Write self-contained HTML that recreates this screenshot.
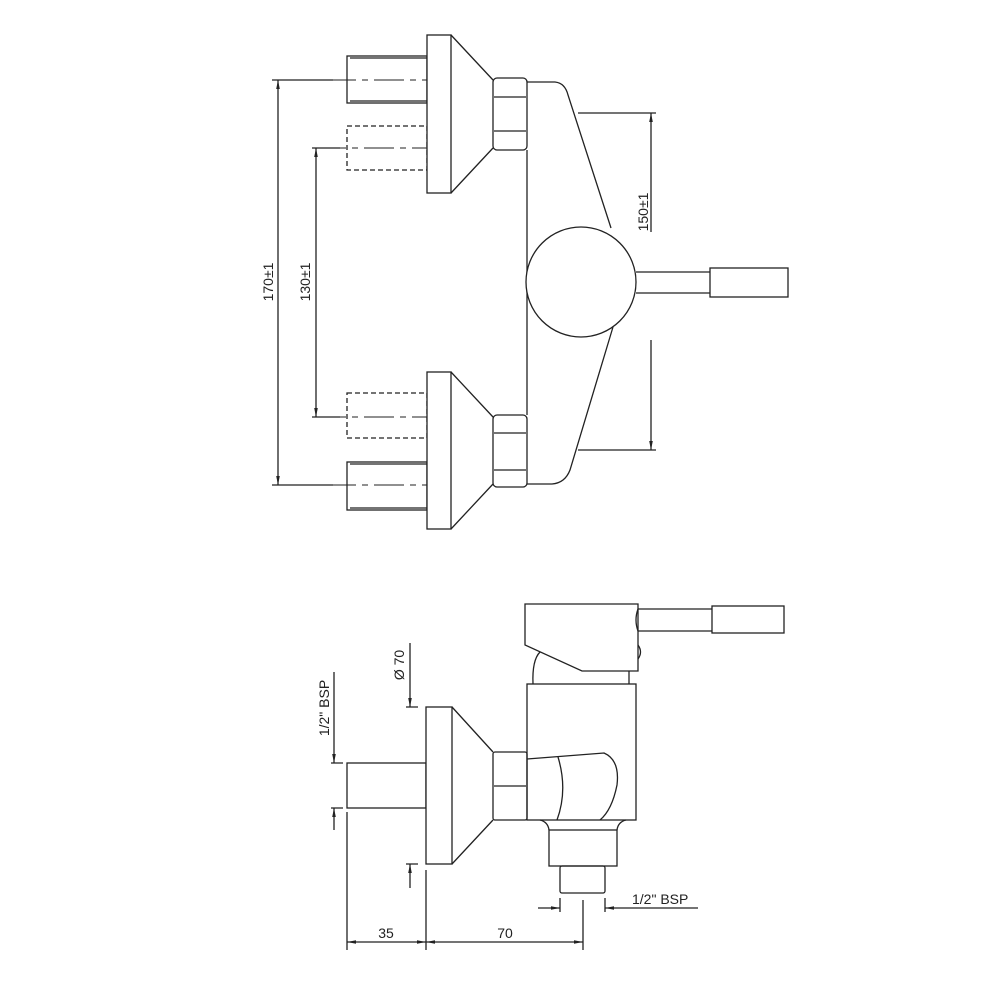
<!DOCTYPE html>
<html><head><meta charset="utf-8"><style>html,body{margin:0;padding:0;background:#fff}svg{display:block}</style></head>
<body>
<svg width="1000" height="1000" viewBox="0 0 1000 1000" xmlns="http://www.w3.org/2000/svg" font-family="Liberation Sans, sans-serif" fill="none" stroke="#222" stroke-width="1.3">
<defs>
<marker id="a" viewBox="0 0 10 10" refX="10" refY="5" markerWidth="9" markerHeight="9" orient="auto-start-reverse" markerUnits="userSpaceOnUse"><path d="M0,3 L10,5 L0,7 z" fill="#222" stroke="none"/></marker>
</defs>
<rect x="347" y="56" width="80" height="47"/>
<line x1="350" y1="58" x2="427" y2="58"/><line x1="350" y1="101" x2="427" y2="101"/>
<rect x="347" y="126" width="80" height="44" stroke-dasharray="5,3"/>
<rect x="347" y="393" width="80" height="45" stroke-dasharray="5,3"/>
<rect x="347" y="462" width="80" height="48"/>
<line x1="350" y1="464" x2="427" y2="464"/><line x1="350" y1="508" x2="427" y2="508"/>
<g stroke-dasharray="30,6,6,6" stroke-width="1">
<line x1="278" y1="80" x2="433" y2="80"/><line x1="316" y1="148" x2="433" y2="148"/>
<line x1="316" y1="417" x2="433" y2="417"/><line x1="278" y1="485" x2="433" y2="485"/>
</g>
<rect x="427" y="35" width="24" height="158" fill="#fff"/>
<path d="M451,35 L493,80 M451,193 L493,148"/>
<rect x="427" y="372" width="24" height="157" fill="#fff"/>
<path d="M451,372 L493,417 M451,529 L493,484"/>
<rect x="493" y="78" width="34" height="72" rx="4"/>
<line x1="494" y1="97" x2="526" y2="97"/><line x1="494" y1="131" x2="526" y2="131"/>
<rect x="493" y="415" width="34" height="72" rx="4"/>
<line x1="494" y1="433" x2="526" y2="433"/><line x1="494" y1="470" x2="526" y2="470"/>
<line x1="527" y1="150" x2="527" y2="415"/>
<path d="M527,82 L555,82 Q565,83 568,95 L611,228"/>
<path d="M527,484 L552,484 Q565,483 570,470 L613,327"/>
<circle cx="581" cy="282" r="55" fill="#fff"/>
<path d="M636,272 L710,272 M636,293 L710,293"/>
<rect x="710" y="268" width="78" height="29"/>
<path d="M578,113 L656,113 M578,450 L656,450"/>
<line x1="651" y1="232" x2="651" y2="113" marker-end="url(#a)"/>
<line x1="651" y1="340" x2="651" y2="450" marker-end="url(#a)"/>
<text transform="translate(648,212) rotate(-90)" font-size="14" fill="#222" stroke="none" text-anchor="middle">150±1</text>
<path d="M272,80 L333,80 M272,485 L333,485"/>
<line x1="278" y1="80" x2="278" y2="485" marker-start="url(#a)" marker-end="url(#a)"/>
<text transform="translate(273,282) rotate(-90)" font-size="14" fill="#222" stroke="none" text-anchor="middle">170±1</text>
<path d="M312,148 L340,148 M312,417 L340,417"/>
<line x1="316" y1="148" x2="316" y2="417" marker-start="url(#a)" marker-end="url(#a)"/>
<text transform="translate(310,282) rotate(-90)" font-size="14" fill="#222" stroke="none" text-anchor="middle">130±1</text>

<path d="M525,645 L525,604 L638,604 L638,671 L582,671 Z"/>
<path d="M638,609 L712,609 M638,631 L712,631"/>
<path d="M638,609 Q634,620 638,631"/>
<rect x="712" y="606" width="72" height="27"/>
<path d="M638,645 Q643,652 638,659"/>
<path d="M540,652 Q532,660 533,684 M629,671 L629,684"/>
<rect x="527" y="684" width="109" height="136"/>
<path d="M527,759 L604,753 Q620,760 617,785 Q612,810 600,820"/>
<path d="M558,757 Q568,790 557,820"/>
<rect x="347" y="763" width="79" height="45"/>
<rect x="426" y="707" width="26" height="157" fill="#fff"/>
<path d="M452,707 L493,752 M452,864 L493,820"/>
<rect x="493" y="752" width="34" height="68" rx="2"/>
<line x1="494" y1="786" x2="526" y2="786"/>
<path d="M540,820 Q548,822 549,830 M626,820 Q618,822 617,830"/>
<rect x="549" y="830" width="68" height="36"/>
<rect x="560" y="866" width="45" height="27" rx="2"/>
<path d="M347,812 L347,950 M426,870 L426,950 M583,900 L583,950"/>
<line x1="347" y1="942" x2="426" y2="942" marker-start="url(#a)" marker-end="url(#a)"/>
<line x1="426" y1="942" x2="583" y2="942" marker-start="url(#a)" marker-end="url(#a)"/>
<text x="386" y="938" font-size="14" fill="#222" stroke="none" text-anchor="middle">35</text>
<text x="505" y="938" font-size="14" fill="#222" stroke="none" text-anchor="middle">70</text>
<path d="M331,763 L343,763 M331,808 L343,808"/>
<line x1="334" y1="672" x2="334" y2="763" marker-end="url(#a)"/>
<line x1="334" y1="830" x2="334" y2="808" marker-end="url(#a)"/>
<text transform="translate(329,708) rotate(-90)" font-size="14" fill="#222" stroke="none" text-anchor="middle">1/2" BSP</text>
<path d="M406,707 L418,707 M406,864 L418,864"/>
<line x1="410" y1="643" x2="410" y2="707" marker-end="url(#a)"/>
<line x1="410" y1="888" x2="410" y2="864" marker-end="url(#a)"/>
<text transform="translate(404,665) rotate(-90)" font-size="14" fill="#222" stroke="none" text-anchor="middle">Ø 70</text>
<path d="M560,898 L560,912 M605,898 L605,912"/>
<line x1="538" y1="908" x2="560" y2="908" marker-end="url(#a)"/>
<line x1="698" y1="908" x2="605" y2="908" marker-end="url(#a)"/>
<text x="632" y="904" font-size="14" fill="#222" stroke="none">1/2" BSP</text>
</svg>
</body></html>
